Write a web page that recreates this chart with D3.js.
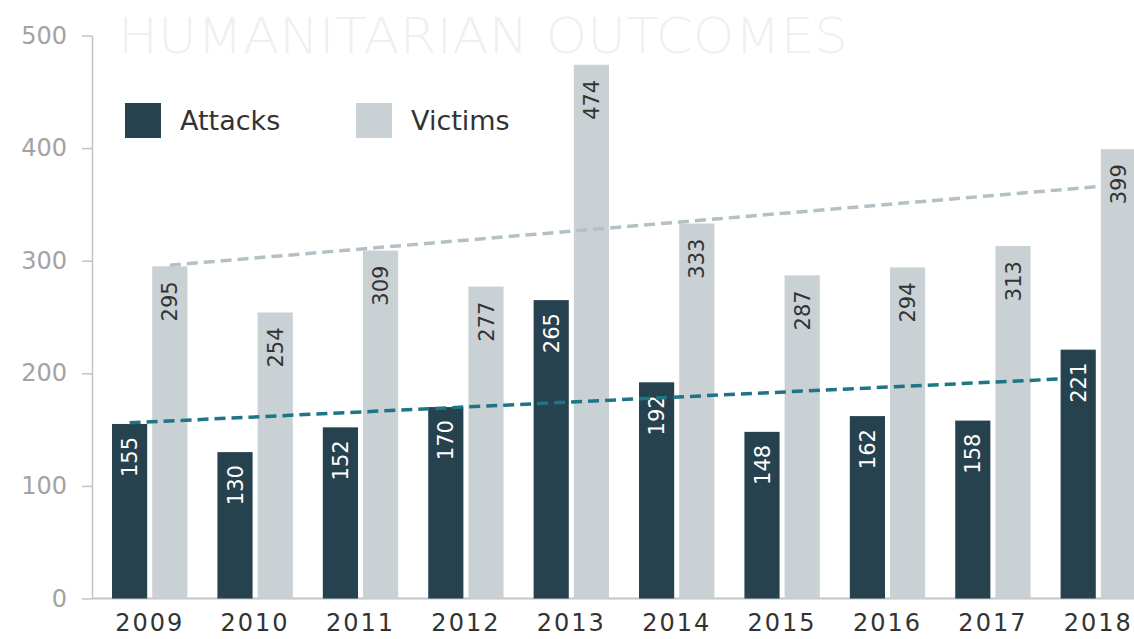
<!DOCTYPE html>
<html>
<head>
<meta charset="utf-8">
<script src="https://cdn.jsdelivr.net/npm/d3@7"></script>
<style>
  html, body { margin: 0; padding: 0; background: #ffffff; }
  svg { display: block; font-family: "DejaVu Sans", sans-serif; }
</style>
</head>
<body>
<svg id="chart" width="1134" height="639"></svg>
<script>
// Chart data
const years = ["2009", "2010", "2011", "2012", "2013", "2014", "2015", "2016", "2017", "2018"];
const series = ["Attacks", "Victims"];
const attacks = [155, 130, 152, 170, 265, 192, 148, 162, 158, 221];
const victims = [295, 254, 309, 277, 474, 333, 287, 294, 313, 399];
// Dashed trend lines: value at the 2009 end and at the 2018 end
const attacksTrend = [156, 195];
const victimsTrend = [296, 366];
const yTicks = [0, 100, 200, 300, 400, 500];

const colors = { Attacks: "#27424f", Victims: "#c9d1d5" };
const trendColors = { Attacks: "#1d7585", Victims: "#b3c0c6" };
const labelColors = { Attacks: "#ffffff", Victims: "#333333" };

const svg = d3.select("#chart");

// Scales
const y = d3.scaleLinear().domain([0, 500]).range([598.5, 35.5]);
const x0 = d3.scaleBand().domain(years).range([97, 1151])
    .paddingInner(0.285).paddingOuter(0.1425);
const x1 = d3.scaleBand().domain(series).range([0, x0.bandwidth()])
    .paddingInner(0.125);

// Title, very faint behind everything
svg.append("text")
    .attr("x", 118)
    .attr("y", 53)
    .attr("font-size", 50)
    .attr("font-family", "'DejaVu Sans ExtraLight', 'DejaVu Sans', sans-serif")
    .attr("font-weight", 200)
    .attr("fill", "#f0f0f0")
    .attr("textLength", 730)
    .attr("lengthAdjust", "spacingAndGlyphs")
    .text("HUMANITARIAN OUTCOMES");

// Y axis
const yAxis = svg.append("g")
    .attr("transform", "translate(92,0)")
    .call(d3.axisLeft(y).tickValues(yTicks).tickSize(10).tickSizeOuter(0).tickPadding(15));
yAxis.select(".domain").attr("stroke", "#c4c4c4").attr("stroke-width", 1.5);
yAxis.selectAll(".tick line").attr("stroke", "#c4c4c4").attr("stroke-width", 1.5);
yAxis.selectAll(".tick text")
    .attr("font-size", 24)
    .attr("fill", "#a3a3a3")
    .attr("font-family", "DejaVu Sans, sans-serif");

// Baseline
svg.append("line")
    .attr("x1", 92).attr("x2", 1134)
    .attr("y1", y(0)).attr("y2", y(0))
    .attr("stroke", "#c4c4c4")
    .attr("stroke-width", 2);

// Bars
const rows = years.map((yr, i) => ({ year: yr, Attacks: attacks[i], Victims: victims[i] }));

const groups = svg.append("g")
    .selectAll("g")
    .data(rows)
    .enter()
    .append("g")
    .attr("transform", d => "translate(" + x0(d.year) + ",0)");

groups.selectAll("rect")
    .data(d => series.map(s => ({ key: s, value: d[s] })))
    .enter()
    .append("rect")
    .attr("x", d => x1(d.key))
    .attr("y", d => y(d.value))
    .attr("width", x1.bandwidth())
    .attr("height", d => y(0) - y(d.value))
    .attr("fill", d => colors[d.key]);

// Value labels, turned to read upwards, near the top of each bar
groups.selectAll("text.value")
    .data(d => series.map(s => ({ key: s, value: d[s] })))
    .enter()
    .append("text")
    .attr("class", "value")
    .attr("transform", d => {
        const cx = x1(d.key) + x1.bandwidth() / 2;
        const cy = y(d.value) + (d.key === "Attacks" ? 13 : 15);
        return "translate(" + cx + "," + cy + ") rotate(-90)";
    })
    .attr("text-anchor", "end")
    .attr("dy", "0.36em")
    .attr("font-size", 21)
    .attr("fill", d => labelColors[d.key])
    .text(d => d.value);

// Trend lines: from the middle of the 2009 bar to the left edge of the 2018 bar
const first = years[0], last = years[years.length - 1];
const trends = [
    { key: "Attacks", values: attacksTrend },
    { key: "Victims", values: victimsTrend }
];
svg.append("g")
    .selectAll("line")
    .data(trends)
    .enter()
    .append("line")
    .attr("x1", d => x0(first) + x1(d.key) + x1.bandwidth() / 2)
    .attr("y1", d => y(d.values[0]))
    .attr("x2", d => x0(last) + x1(d.key))
    .attr("y2", d => y(d.values[1]))
    .attr("stroke", d => trendColors[d.key])
    .attr("stroke-width", 3.5)
    .attr("stroke-dasharray", "11,6");

// Year labels
svg.append("g")
    .selectAll("text")
    .data(years)
    .enter()
    .append("text")
    .attr("x", d => x0(d) + x0.bandwidth() / 2)
    .attr("y", 631)
    .attr("text-anchor", "middle")
    .attr("font-size", 24)
    .attr("letter-spacing", 2)
    .attr("fill", "#333333")
    .text(d => d);

// Legend
const legendX = [125, 356];
const legend = svg.append("g")
    .selectAll("g")
    .data(series)
    .enter()
    .append("g")
    .attr("transform", (d, i) => "translate(" + legendX[i] + ",103)");
legend.append("rect")
    .attr("width", 36)
    .attr("height", 35)
    .attr("fill", d => colors[d]);
legend.append("text")
    .attr("x", 55)
    .attr("y", 27)
    .attr("font-size", 27)
    .attr("fill", "#333333")
    .text(d => d);
</script>
</body>
</html>
